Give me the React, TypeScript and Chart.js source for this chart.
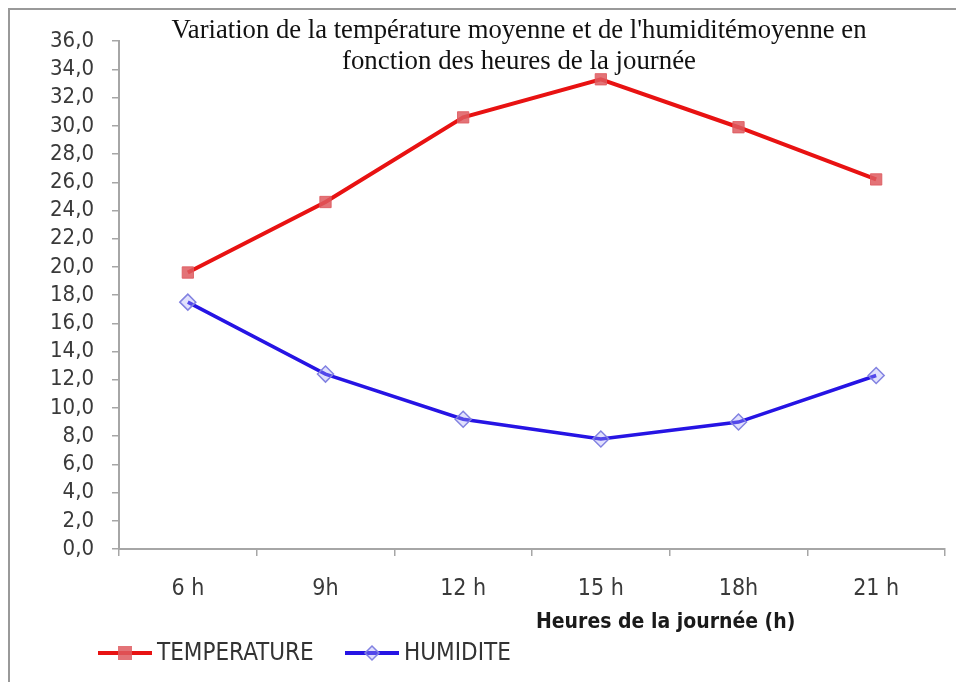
import React, { useEffect, useRef } from "react";
import { Chart, registerables } from "chart.js";

Chart.register(...registerables);

const hours = ["6 h", "9h", "12 h", "15 h", "18h", "21 h"];
const temperature = [19.6, 24.6, 30.6, 33.3, 29.9, 26.2];
const humidity = [17.5, 12.4, 9.2, 7.8, 9.0, 12.3];
const titleLines = [
  "Variation de la température moyenne et de l'humiditémoyenne en",
  "fonction des heures de la journée",
];
const xAxisTitle = "Heures de la journée (h)";
const seriesNames = ["TEMPERATURE", "HUMIDITE"];

const SANS = "'DejaVu Sans Condensed', 'DejaVu Sans', sans-serif";

const overlayPlugin = {
  id: "overlay",
  afterDraw(chart: any) {
    const ctx = chart.ctx;
    const area = chart.chartArea;
    ctx.save();
    // Title (serif, condensed to target width)
    ctx.fillStyle = "#111";
    ctx.font = "27px 'Liberation Serif', 'Times New Roman', serif";
    ctx.textBaseline = "middle";
    ctx.textAlign = "center";
    const cx = (area.left + area.right) / 2 - 13;
    const targets = [695, 354];
    const ys = [area.top - 10, area.top + 21];
    titleLines.forEach((t, i) => {
      const w = ctx.measureText(t).width;
      ctx.save();
      ctx.translate(cx, ys[i]);
      ctx.scale(targets[i] / w, 1);
      ctx.fillText(t, 0, 0);
      ctx.restore();
    });
    // Axis title
    const xs = chart.scales.x;
    const tx = (xs.getPixelForValue(3) + xs.getPixelForValue(4)) / 2 - 4;
    ctx.font = "bold 21px " + SANS;
    ctx.fillStyle = "#1a1a1a";
    ctx.fillText(xAxisTitle, tx, area.bottom + 74);
    // Legend
    const ly = area.bottom + 104;
    const items = [
      { x: 88, ds: chart.data.datasets[0] },
      { x: 335, ds: chart.data.datasets[1] },
    ];
    items.forEach((it, i) => {
      const ds = it.ds;
      ctx.strokeStyle = ds.borderColor;
      ctx.lineWidth = 4;
      ctx.beginPath();
      ctx.moveTo(it.x, ly);
      ctx.lineTo(it.x + 54, ly);
      ctx.stroke();
      const mx = it.x + 27;
      ctx.fillStyle = ds.pointBackgroundColor;
      ctx.strokeStyle = ds.pointBorderColor;
      ctx.lineWidth = 1.5;
      if (i === 0) {
        ctx.fillRect(mx - 7, ly - 7, 14, 14);
      } else {
        ctx.beginPath();
        ctx.moveTo(mx, ly - 7);
        ctx.lineTo(mx + 7, ly);
        ctx.lineTo(mx, ly + 7);
        ctx.lineTo(mx - 7, ly);
        ctx.closePath();
        ctx.fill();
        ctx.stroke();
      }
      ctx.font = "24px " + SANS;
      ctx.fillStyle = "#333";
      ctx.textAlign = "left";
      ctx.fillText(seriesNames[i], it.x + 59, ly + 1);
      ctx.textAlign = "center";
    });
    ctx.restore();
  },
};

export default function App() {
  const ref = useRef<HTMLCanvasElement>(null);
  useEffect(() => {
    const prevOverflow = document.documentElement.style.overflow;
    document.documentElement.style.overflow = "hidden";
    const chart = new Chart(ref.current!, {
      type: "line",
      data: {
        labels: hours,
        datasets: [
          {
            label: seriesNames[0],
            data: temperature,
            borderColor: "rgb(232,18,18)",
            borderWidth: 4,
            pointStyle: "rect",
            pointRadius: 8,
            pointBackgroundColor: "rgba(222,90,95,0.85)",
            pointBorderColor: "rgba(222,90,95,0.85)",
            pointBorderWidth: 1,
            tension: 0,
          },
          {
            label: seriesNames[1],
            data: humidity,
            borderColor: "rgb(38,20,228)",
            borderWidth: 3.5,
            pointStyle: "rectRot",
            pointRadius: 8,
            pointBackgroundColor: "rgba(170,170,245,0.35)",
            pointBorderColor: "rgb(130,130,225)",
            pointBorderWidth: 1.5,
            tension: 0,
          },
        ],
      },
      options: {
        animation: false,
        responsive: false,
        layout: { padding: { top: 28, right: 19, left: 0, bottom: 0 } },
        plugins: {
          legend: { display: false },
          title: { display: false },
          tooltip: { enabled: false },
        },
        scales: {
          x: {
            offset: true,
            grid: {
              offset: true,
              drawOnChartArea: false,
              drawTicks: true,
              tickLength: 7,
              color: "#a6a6a6",
              lineWidth: 1.5,
            },
            border: { color: "#a6a6a6", width: 2 },
            ticks: {
              font: { family: SANS, size: 23 },
              color: "#3a3a3a",
              padding: 19,
              maxRotation: 0,
            },
            afterFit(scale: any) {
              scale.height = 133;
            },
          },
          y: {
            min: 0,
            max: 36,
            grid: {
              drawOnChartArea: false,
              drawTicks: true,
              tickLength: 7,
              color: "#a6a6a6",
              lineWidth: 1.5,
            },
            border: { color: "#a6a6a6", width: 2 },
            ticks: {
              stepSize: 2,
              autoSkip: false,
              font: { family: SANS, size: 22 },
              color: "#3a3a3a",
              padding: 18,
              callback: (v: any) => Number(v).toFixed(1).replace(".", ","),
            },
            afterFit(scale: any) {
              scale.width = 109;
            },
          },
        },
      },
      plugins: [overlayPlugin],
    });
    return () => {
      chart.destroy();
      document.documentElement.style.overflow = prevOverflow;
    };
  }, []);
  return (
    <div
      style={{
        width: 954,
        height: 672,
        borderTop: "2px solid #999",
        borderLeft: "2px solid #999",
        background: "#fff",
      }}
    >
      <canvas ref={ref} width={954} height={672} style={{ display: "block" }} />
    </div>
  );
}
